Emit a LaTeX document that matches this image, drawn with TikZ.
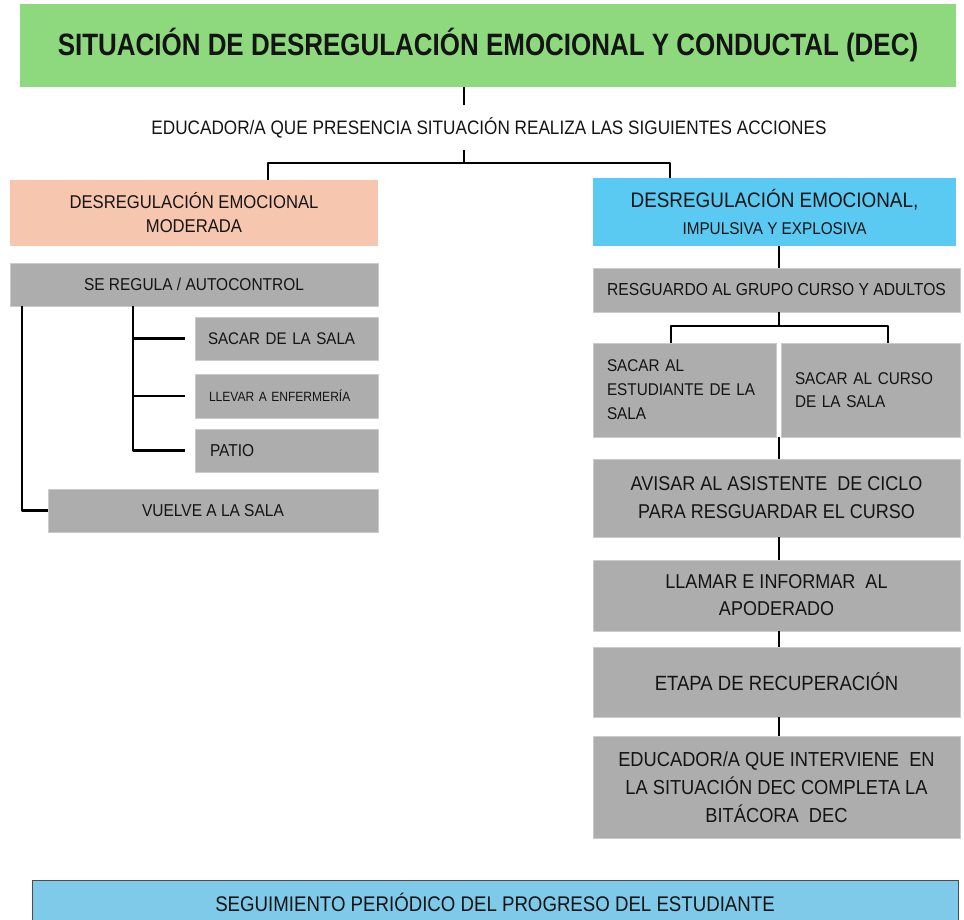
\documentclass[tikz,border=0pt]{standalone}
\usepackage{fontspec}
\setmainfont{Liberation Sans}
\newfontfamily\condfont[FakeStretch=0.84]{Liberation Sans}
\newfontfamily\narrowfont[FakeStretch=0.88]{Liberation Sans}
\newfontfamily\bodyfont[FakeStretch=0.9]{Liberation Sans}
\definecolor{titlegreen}{HTML}{8ED97E}
\definecolor{salmon}{HTML}{F6C6AE}
\definecolor{cyanbox}{HTML}{5BCAF2}
\definecolor{graybox}{HTML}{ADADAD}
\definecolor{grayedge}{HTML}{CBCBCB}
\definecolor{seguiblue}{HTML}{80CAE9}
\definecolor{txt}{HTML}{141414}
\tikzset{
  basebox/.style={inner sep=0pt, outer sep=0pt, text=txt, align=center},
  gbox/.style={basebox, fill=graybox, draw=grayedge, line width=0.8pt},
  conn/.style={draw=black, line width=2.6pt, line join=round},
}
\newcommand{\fs}[2]{\fontsize{#1}{#2}\selectfont}
\begin{document}
\begin{tikzpicture}[x=1pt,y=-1pt]
\useasboundingbox (0,0) rectangle (964,919);

% title
\node[basebox, fill=titlegreen, minimum width=936, minimum height=83, font=\condfont\bfseries\fs{30.9}{34}] (title) at (488,45.5) {SITUACIÓN DE DESREGULACIÓN EMOCIONAL Y CONDUCTAL (DEC)};
\node[basebox, font=\narrowfont\fs{19.5}{22}] (edu) at (489,128) {EDUCADOR/A QUE PRESENCIA SITUACIÓN REALIZA LAS SIGUIENTES ACCIONES};

% two branches
\node[basebox, fill=salmon, minimum width=368, minimum height=66, font=\bodyfont\fs{18.5}{24}] (mod) at (194,213) {DESREGULACIÓN EMOCIONAL\\MODERADA};
\node[basebox, fill=cyanbox, minimum width=363, minimum height=68, font=\bodyfont\fs{21}{27}] (imp) at (774.5,212) {DESREGULACIÓN EMOCIONAL,\\{\fs{17}{27}IMPULSIVA Y EXPLOSIVA}};

% left column
\node[gbox, minimum width=368, minimum height=43, font=\bodyfont\fs{17.2}{20}] (reg) at (194,284.5) {SE REGULA / AUTOCONTROL};
\node[gbox, minimum width=183, minimum height=43, inner xsep=13pt, align=left, text width=157, font=\bodyfont\fs{16.8}{20}] (s1) at (286.5,338.5) {SACAR DE LA SALA};
\node[gbox, minimum width=183, minimum height=44, inner xsep=14pt, align=left, text width=155, font=\bodyfont\fs{13.4}{16}] (s2) at (286.5,396) {LLEVAR A ENFERMERÍA};
\node[gbox, minimum width=183, minimum height=43, inner xsep=15pt, align=left, text width=153, font=\bodyfont\fs{17.2}{20}] (s3) at (286.5,450.5) {PATIO};
\node[gbox, minimum width=330, minimum height=43, font=\bodyfont\fs{17.2}{20}] (vuelve) at (213,510.5) {VUELVE A LA SALA};

% right column
\node[gbox, minimum width=367, minimum height=44, font=\bodyfont\fs{17.4}{20}] (resg) at (776.5,290) {RESGUARDO AL GRUPO CURSO Y ADULTOS};
\node[gbox, minimum width=183, minimum height=94, inner xsep=14pt, align=left, text width=155, font=\bodyfont\fs{17}{24}] (sa) at (684.5,390) {SACAR AL\\ESTUDIANTE DE LA\\SALA};
\node[gbox, minimum width=179, minimum height=94, inner xsep=14pt, align=left, text width=151, font=\bodyfont\fs{17}{23}] (sc) at (870.5,390) {SACAR AL CURSO\\DE LA SALA};
\node[gbox, minimum width=367, minimum height=78, font=\bodyfont\fs{20}{28}] (avisar) at (776.5,498) {AVISAR AL ASISTENTE\ \ DE CICLO\\PARA RESGUARDAR EL CURSO};
\node[gbox, minimum width=367, minimum height=71, font=\bodyfont\fs{20}{27}] (llamar) at (776.5,595.5) {LLAMAR E INFORMAR\ \ AL\\APODERADO};
\node[gbox, minimum width=367, minimum height=70, font=\bodyfont\fs{20.6}{27}] (etapa) at (776.5,682) {ETAPA DE RECUPERACIÓN};
\node[gbox, minimum width=367, minimum height=102, font=\bodyfont\fs{20.3}{28}] (educ) at (776.5,787) {EDUCADOR/A QUE INTERVIENE\ \ EN\\LA SITUACIÓN DEC COMPLETA LA\\BITÁCORA\ \ DEC};

% bottom
\node[basebox, fill=seguiblue, draw=black!70, line width=0.8pt, minimum width=926, minimum height=44, font=\narrowfont\fs{21.2}{24}] (seg) at (495,902) {SEGUIMIENTO PERIÓDICO DEL PROGRESO DEL ESTUDIANTE};

% connectors top
\coordinate (t1) at (464,105);
\coordinate (j0) at (464,150);
\coordinate (j1) at (464,163);
\coordinate (jl) at (268,163);
\coordinate (jr) at (670,163);
\draw[conn] (title.south -| t1) -- (t1);
\draw[conn] (j0) -- (j1);
\draw[conn] (mod.north -| jl) -- (jl) -- (jr) -- (imp.north -| jr);

% right connectors
\coordinate (rx) at (779,0);
\coordinate (r1) at (779,326);
\coordinate (ca) at (671,326);
\coordinate (cb) at (888,326);
\draw[conn] (imp.south -| rx) -- (resg.north -| rx);
\draw[conn] (resg.south -| rx) -- (r1);
\draw[conn] (sa.north -| ca) -- (ca) -- (cb) -- (sc.north -| cb);
\draw[conn] (sa.south -| rx) -- (avisar.north -| rx);
\draw[conn] (avisar.south -| rx) -- (llamar.north -| rx);
\draw[conn] (llamar.south -| rx) -- (etapa.north -| rx);
\draw[conn] (etapa.south -| rx) -- (educ.north -| rx);

% left connectors
\coordinate (lx) at (133,0);
\coordinate (lx2) at (22,0);
\draw[conn] (reg.south -| lx) |- ([xshift=-10pt]s3.west);
\draw[conn] (lx |- s1.west) -- ([xshift=-10pt]s1.west);
\draw[conn] (lx |- s2.west) -- ([xshift=-10pt]s2.west);
\draw[conn] (reg.south -| lx2) |- (vuelve.west);
\end{tikzpicture}
\end{document}
